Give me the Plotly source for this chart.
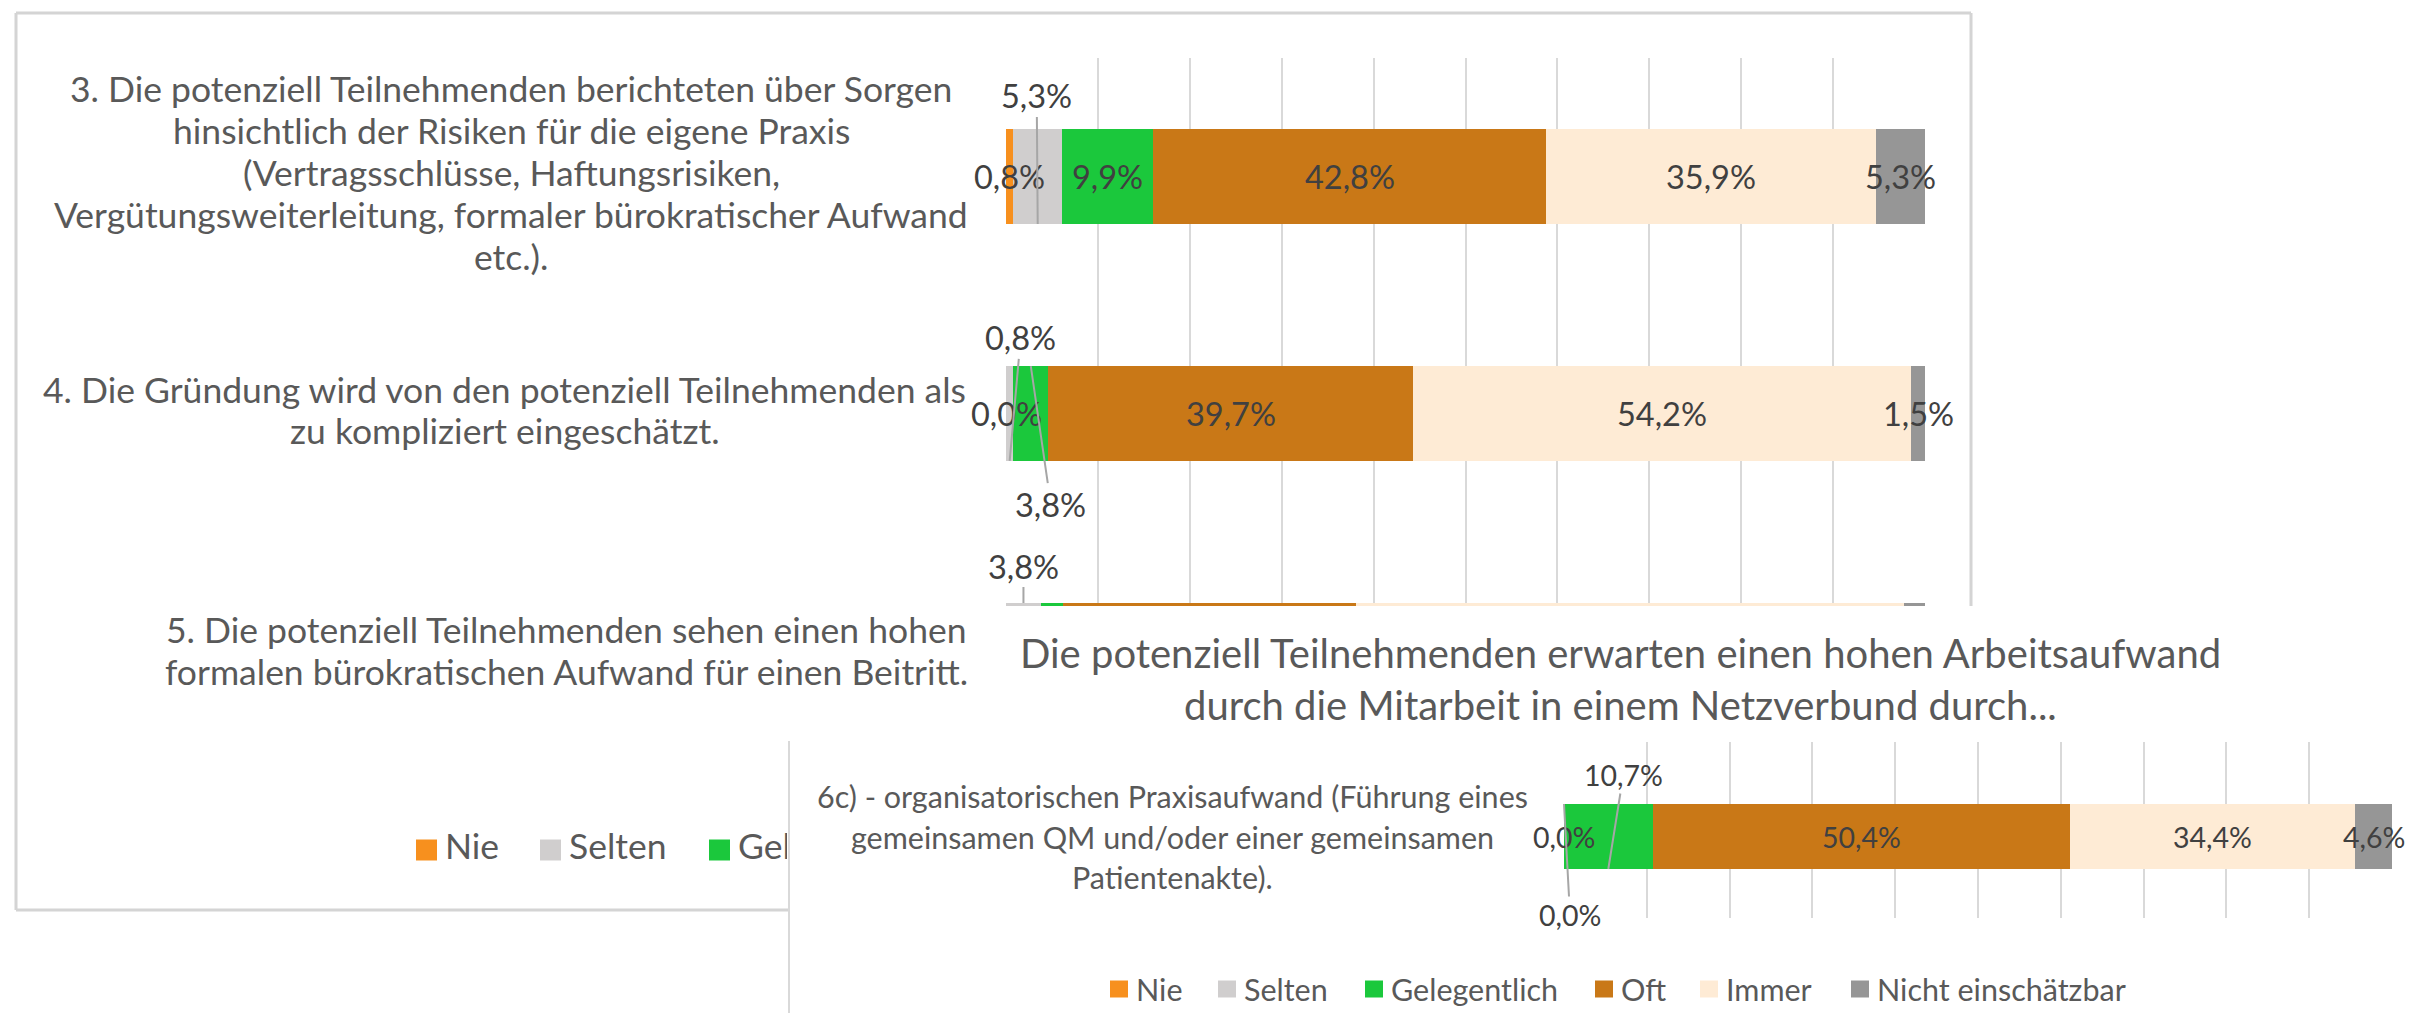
import plotly.graph_objects as go

W, H = 2420, 1013

# ---------------- data ----------------
series = ["Nie", "Selten", "Gelegentlich", "Oft", "Immer", "Nicht einschätzbar"]
colors = ["#F7901E", "#D0CECE", "#1BC83C", "#C97817", "#FEEBD5", "#969696"]

back_categories = [
    ["3. Die potenziell Teilnehmenden berichteten über Sorgen",
     "hinsichtlich der Risiken für die eigene Praxis",
     "(Vertragsschlüsse, Haftungsrisiken,",
     "Vergütungsweiterleitung, formaler bürokratischer Aufwand",
     "etc.)."],
    ["4. Die Gründung wird von den potenziell Teilnehmenden als",
     "zu kompliziert eingeschätzt."],
    ["5. Die potenziell Teilnehmenden sehen einen hohen",
     "formalen bürokratischen Aufwand für einen Beitritt."],
]
back_nie = [0.8, 0.0, 0.0]
back_selten = [5.3, 0.8, 3.8]
back_gelegentlich = [9.9, 3.8, 2.4]
back_oft = [42.8, 39.7, 31.9]
back_immer = [35.9, 54.2, 59.6]
back_nicht = [5.3, 1.5, 2.3]
# visible part of the back legend (the rest is hidden under the front chart)
back_legend_visible = ["Nie", "Selten", "Gel"]

front_title = ["Die potenziell Teilnehmenden erwarten einen hohen Arbeitsaufwand",
               "durch die Mitarbeit in einem Netzverbund durch..."]
front_categories = [
    ["6c) - organisatorischen Praxisaufwand (Führung eines",
     "gemeinsamen QM und/oder einer gemeinsamen",
     "Patientenakte)."],
]
front_nie = [0.0]
front_selten = [0.0]
front_gelegentlich = [10.7]
front_oft = [50.4]
front_immer = [34.4]
front_nicht = [4.6]

back_values = [back_nie, back_selten, back_gelegentlich, back_oft, back_immer, back_nicht]
front_values = [front_nie, front_selten, front_gelegentlich, front_oft, front_immer, front_nicht]
x_ticks = list(range(0, 101, 10))

# ---------------- style / layout constants ----------------
FONT = "Lato"
TXT = "#595959"
LBL = "#404040"
GRID = "#D9D9D9"
LEADER = "#A6A6A6"

def px_x(p):
    return p / W

def px_y(p):
    return 1 - p / H

# back chart geometry (pixels)
B_X0, B_X1 = 998, 1917
B_TOP, B_BOT = 50, 598
B_ROW = 237.0
B_BARW = 0.40
b_range = [-0.5 + (B_BOT - B_TOP) / B_ROW, -0.5]  # reversed
B_LABEL_CX = [503, 497, 558]      # centre of each wrapped label block
B_LABEL_DY = [-4, -3.5, 0]
B_LINE = 42
B_CAT_SIZE = 35.5
B_VAL_SIZE = 32.5

# front chart geometry
F_X0, F_X1 = 1556, 2384
F_TOP, F_BOT = 734, 910
F_BARW = 0.369
f_range = [-0.463, 0.537]
F_LABEL_CX = [1164]
F_LINE = 40.5
F_CAT_SIZE = 30.5
F_VAL_SIZE = 28.5

# back legend strip (clipped where the front chart covers it)
L_X1 = 779
L_TOP, L_BOT = 805, 880

def back_row_px(i):
    frac = (i - b_range[1]) / (b_range[0] - b_range[1])
    return B_TOP + frac * (B_BOT - B_TOP)

def front_row_px(i):
    frac = (i - f_range[0]) / (f_range[1] - f_range[0])
    return F_BOT - frac * (F_BOT - F_TOP)

def fmt(v):
    return f"{v:.1f}".replace(".", ",") + "%"

fig = go.Figure()

# back bars
for s, name in enumerate(series):
    fig.add_trace(go.Bar(
        y=list(range(len(back_categories))), x=back_values[s], orientation="h",
        marker=dict(color=colors[s], line=dict(width=0)), width=B_BARW,
        name=name, showlegend=False, hoverinfo="skip", xaxis="x", yaxis="y"))

# front bars
for s, name in enumerate(series):
    fig.add_trace(go.Bar(
        y=list(range(len(front_categories))), x=front_values[s], orientation="h",
        marker=dict(color=colors[s], line=dict(width=0)), width=F_BARW,
        name=name, showlegend=False, hoverinfo="skip", xaxis="x2", yaxis="y2"))

# back legend (partly hidden under the front chart -> clipped subplot)
back_legend_x = [408, 532, 701]
B_LEG_Y = 842
B_SQ = 21
for k, t in enumerate(back_legend_visible):
    fig.add_trace(go.Scatter(
        x=[back_legend_x[k] + B_SQ / 2], y=[B_LEG_Y], mode="markers",
        marker=dict(symbol="square", size=B_SQ, color=colors[k], line=dict(width=0)),
        showlegend=False, hoverinfo="skip", xaxis="x3", yaxis="y3"))
    fig.add_trace(go.Scatter(
        x=[back_legend_x[k] + B_SQ + 8], y=[B_LEG_Y], mode="text", text=[t],
        textposition="middle right", textfont=dict(family=FONT, size=35.5, color=TXT),
        showlegend=False, hoverinfo="skip", xaxis="x3", yaxis="y3", cliponaxis=True))

annotations = []

# leader-label placement: (row, series) -> (edge, ax, ay)
back_leaders = {(0, 1): ("bottom", -1, -128), (1, 1): ("bottom", 11, -123),
                (1, 2): ("top", 20, 138), (2, 1): ("top", 0, -37)}
front_leaders = {(0, 2): ("bottom", 15, -94), (0, 1): ("top", 6, 111)}

def add_labels(values, ncat, xref, yref, barw, leaders, fsize, reversed_axis):
    for i in range(ncat):
        cum = 0.0
        for s in range(len(series)):
            v = values[s][i]
            c = cum + v / 2
            cum += v
            if (i, s) in leaders:
                edge, ax, ay = leaders[(i, s)]
                if reversed_axis:
                    yy = i + barw / 2 if edge == "bottom" else i - barw / 2
                else:
                    yy = i - barw / 2 if edge == "bottom" else i + barw / 2
                annotations.append(dict(
                    x=c, y=yy, xref=xref, yref=yref, text=fmt(v), showarrow=True,
                    arrowhead=0, arrowwidth=2, arrowcolor=LEADER, ax=ax, ay=ay,
                    standoff=0, startstandoff=0,
                    font=dict(family=FONT, size=fsize, color=LBL)))
            else:
                annotations.append(dict(
                    x=c, y=i, xref=xref, yref=yref, text=fmt(v), showarrow=False,
                    font=dict(family=FONT, size=fsize, color=LBL)))

add_labels(back_values, len(back_categories), "x", "y", B_BARW, back_leaders, B_VAL_SIZE, True)
add_labels(front_values, len(front_categories), "x2", "y2", F_BARW, front_leaders, F_VAL_SIZE, False)

# category labels, one annotation per wrapped line
def add_cat(lines, cx, cy, step, fsize):
    n = len(lines)
    for k, t in enumerate(lines):
        yy = cy + (k - (n - 1) / 2) * step
        annotations.append(dict(x=px_x(cx), y=px_y(yy), xref="paper", yref="paper",
                                xanchor="center", yanchor="middle", text=t,
                                showarrow=False, font=dict(family=FONT, size=fsize, color=TXT)))

for i, lines in enumerate(back_categories):
    add_cat(lines, B_LABEL_CX[i], back_row_px(i) + B_LABEL_DY[i], B_LINE, B_CAT_SIZE)
for i, lines in enumerate(front_categories):
    add_cat(lines, F_LABEL_CX[i], front_row_px(i), F_LINE, F_CAT_SIZE)

# front title (two lines)
add_cat(front_title, 1612, 671, 52, 40)

shapes = []
# front legend (manual)
def legend_item(sq_left, yc, size_w, size_h, gap, color, text, fsize):
    shapes.append(dict(type="rect", xref="paper", yref="paper",
                       x0=px_x(sq_left), x1=px_x(sq_left + size_w),
                       y0=px_y(yc + size_h / 2), y1=px_y(yc - size_h / 2),
                       fillcolor=color, line=dict(width=0)))
    annotations.append(dict(x=px_x(sq_left + size_w + gap), y=px_y(yc), xref="paper", yref="paper",
                            xanchor="left", yanchor="middle", text=text, showarrow=False,
                            font=dict(family=FONT, size=fsize, color=TXT)))

front_legend_x = [1102, 1210, 1357, 1587, 1692, 1843]
for k in range(6):
    legend_item(front_legend_x[k], 981, 18, 17, 6, colors[k], series[k], 30.5)

# frames
def line(x0, y0, x1, y1, color, w):
    shapes.append(dict(type="line", xref="paper", yref="paper",
                       x0=px_x(x0), y0=px_y(y0), x1=px_x(x1), y1=px_y(y1),
                       line=dict(color=color, width=w)))

line(8, 5, 1963, 5, "#D4D4D4", 3)
line(8, 5, 8, 902, "#D4D4D4", 3)
line(8, 902, 780, 902, "#D4D4D4", 3)
line(1963, 5, 1963, 598, "#D4D4D4", 3)
line(781, 733, 781, 1013, "#D9D9D9", 2)

axis_common = dict(showticklabels=False, zeroline=False, showline=False, ticks="",
                   fixedrange=True)
fig.update_layout(
    width=W, height=H, margin=dict(l=0, r=0, t=0, b=0),
    paper_bgcolor="white", plot_bgcolor="rgba(0,0,0,0)",
    barmode="stack", showlegend=False,
    xaxis=dict(domain=[px_x(B_X0), px_x(B_X1)], range=[0, 100], tickvals=x_ticks,
               showgrid=True, gridcolor=GRID, gridwidth=2, anchor="y", **axis_common),
    yaxis=dict(domain=[px_y(B_BOT), px_y(B_TOP)], range=b_range, showgrid=False,
               anchor="x", **axis_common),
    xaxis2=dict(domain=[px_x(F_X0), px_x(F_X1)], range=[0, 100], tickvals=x_ticks,
                showgrid=True, gridcolor=GRID, gridwidth=2, anchor="y2", **axis_common),
    yaxis2=dict(domain=[px_y(F_BOT), px_y(F_TOP)], range=f_range, showgrid=False,
                anchor="x2", **axis_common),
    xaxis3=dict(domain=[0, px_x(L_X1)], range=[0, L_X1], showgrid=False, anchor="y3",
                **axis_common),
    yaxis3=dict(domain=[px_y(L_BOT), px_y(L_TOP)], range=[L_BOT, L_TOP], showgrid=False,
                anchor="x3", **axis_common),
    annotations=annotations, shapes=shapes,
)

fig.write_html("out.html")
